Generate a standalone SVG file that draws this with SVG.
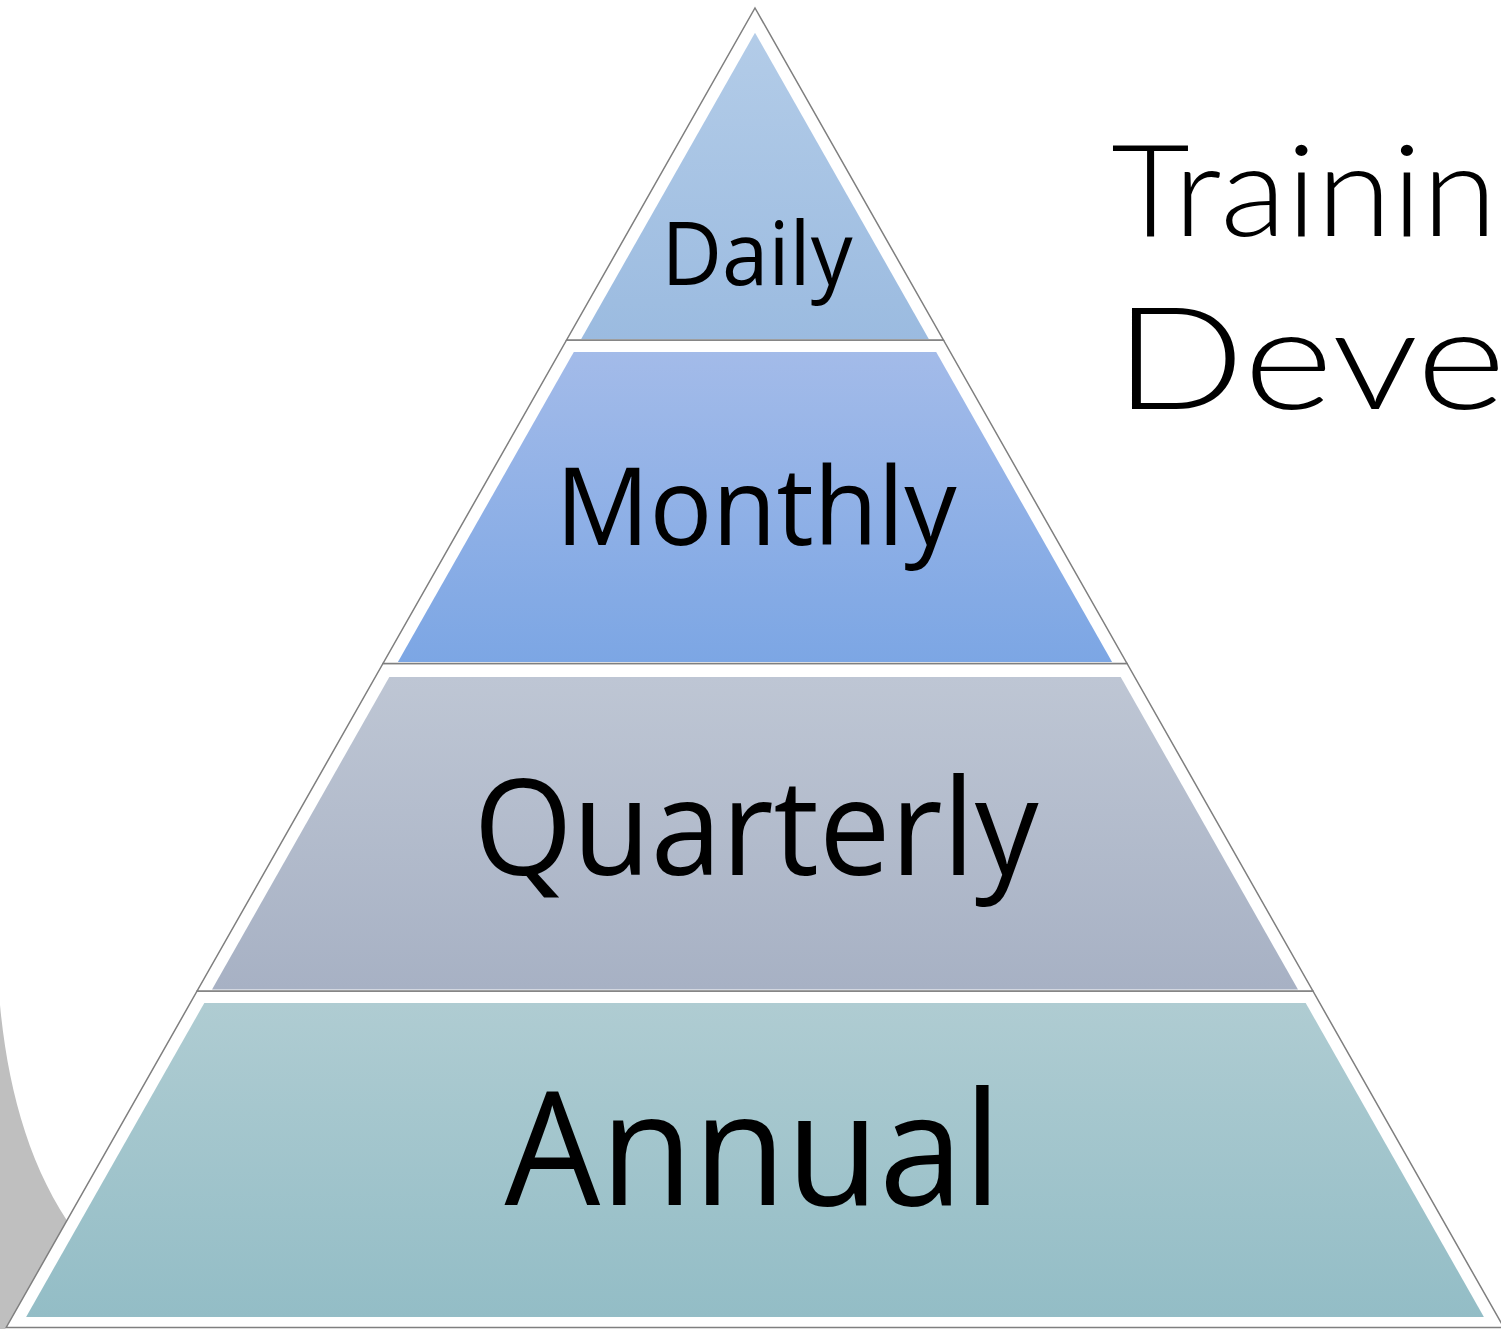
<svg xmlns="http://www.w3.org/2000/svg" width="1501" height="1329" viewBox="0 0 1501 1329">
  <defs>
    <linearGradient id="gDaily" x1="0" y1="0" x2="0" y2="1">
      <stop offset="0" stop-color="#b3cce8"/>
      <stop offset="1" stop-color="#9bbbe0"/>
    </linearGradient>
    <linearGradient id="gMonthly" x1="0" y1="0" x2="0" y2="1">
      <stop offset="0" stop-color="#a3bbe9"/>
      <stop offset="1" stop-color="#7ca6e4"/>
    </linearGradient>
    <linearGradient id="gQuarterly" x1="0" y1="0" x2="0" y2="1">
      <stop offset="0" stop-color="#bec6d4"/>
      <stop offset="1" stop-color="#a7b1c4"/>
    </linearGradient>
    <linearGradient id="gAnnual" x1="0" y1="0" x2="0" y2="1">
      <stop offset="0" stop-color="#afccd2"/>
      <stop offset="1" stop-color="#93bdc6"/>
    </linearGradient>
  </defs>
  <style>
    .outer { fill: #ffffff; stroke: #7f7f7f; stroke-width: 1.5; stroke-linejoin: miter; }
    .label { font-family: "Open Sans", "Liberation Sans", Arial, sans-serif; fill: #000000; text-anchor: middle; }
    .title { font-family: "Lato", "Liberation Sans", Arial, sans-serif; font-weight: 300; fill: #000000; }
  </style>
  <rect x="0" y="0" width="1501" height="1329" fill="#ffffff"/>
  <path id="grey-arc" d="M0,1005 C8,1090 30,1170 75,1232 L5,1329 L0,1329 Z" fill="#bfbfbf"/>

  <g id="title">
    <text class="title" x="1111" y="236" font-size="128" textLength="386" lengthAdjust="spacingAndGlyphs">Trainin</text>
    <text class="title" x="1114" y="409" font-size="143" textLength="392" lengthAdjust="spacingAndGlyphs">Deve</text>
  </g>

  <g id="annual">
    <polygon class="outer" points="197.1,991 1312.9,991 1503.8,1327.5 6.2,1327.5"/>
    <polygon fill="url(#gAnnual)" points="204.3,1003 1305.7,1003 1483.9,1317 26.1,1317"/>
    <text class="label" x="753" y="1205" font-size="158" textLength="497" lengthAdjust="spacingAndGlyphs">Annual</text>
  </g>

  <g id="quarterly">
    <polygon class="outer" points="383,663.5 1127,663.5 1312.9,991 197.1,991"/>
    <polygon fill="url(#gQuarterly)" points="389.3,677 1120.7,677 1298,989.5 212,989.5"/>
    <text class="label" x="756" y="875" font-size="133" textLength="565" lengthAdjust="spacingAndGlyphs">Quarterly</text>
  </g>

  <g id="monthly">
    <polygon class="outer" points="566.6,340 943.4,340 1127,663.5 383,663.5"/>
    <polygon fill="url(#gMonthly)" points="573.8,352 936.2,352 1112.1,662 397.9,662"/>
    <text class="label" x="756" y="545" font-size="108" textLength="401" lengthAdjust="spacingAndGlyphs">Monthly</text>
  </g>

  <g id="daily">
    <polygon class="outer" points="755,8 943.4,340 566.6,340"/>
    <polygon fill="url(#gDaily)" points="755,32.7 928.8,339 581.2,339"/>
    <text class="label" x="757" y="285" font-size="88" textLength="191" lengthAdjust="spacingAndGlyphs">Daily</text>
  </g>

  <g id="connectors"></g>
</svg>
